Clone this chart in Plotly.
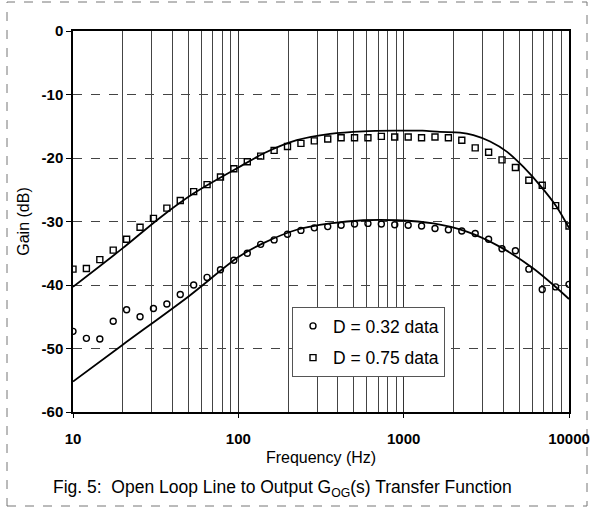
import plotly.graph_objects as go

# Measurement frequencies (Hz)
freq = [10, 12.05, 14.53, 17.51, 21.1, 25.44, 30.66, 36.95, 44.54, 53.68,
        64.7, 77.98, 93.99, 113.3, 136.5, 164.6, 198.3, 239.1, 288.1, 347.3,
        418.6, 504.5, 608, 733, 883, 1065, 1283, 1547, 1864, 2247,
        2708, 3264, 3934, 4741, 5715, 6888, 8302, 10000]

# D = 0.32 measured gain (dB)
gain_d032 = [-47.3, -48.4, -48.5, -45.7, -43.9, -45.0, -43.7, -43.0, -41.5, -40.0,
             -38.8, -37.6, -36.1, -35.0, -33.6, -32.9, -32.0, -31.4, -31.0, -30.8,
             -30.6, -30.4, -30.3, -30.4, -30.5, -30.6, -30.7, -31.1, -31.3, -31.5,
             -31.9, -32.8, -34.3, -34.6, -37.5, -40.7, -40.3, -39.9]

# D = 0.75 measured gain (dB)
gain_d075 = [-37.5, -37.4, -36.0, -34.5, -32.8, -30.9, -29.5, -27.9, -26.7, -25.3,
             -24.2, -23.0, -21.7, -20.6, -19.7, -18.8, -18.2, -17.7, -17.3, -17.0,
             -16.8, -16.8, -16.8, -16.6, -16.7, -16.7, -16.8, -16.7, -16.8, -17.2,
             -18.4, -19.1, -20.3, -21.5, -23.5, -24.3, -27.5, -30.7]

# Model (fit) curves
fit_freq_032 = [10, 20, 50, 100, 141.7, 225.6, 359, 570, 908, 1513, 2409, 3830, 6090, 8050, 10000]
fit_gain_032 = [-55.2, -49.4, -41.8, -35.6, -33.4, -31.3, -30.3, -29.8, -29.8, -30.3, -31.6, -34.0, -37.4, -40.0, -42.2]

fit_freq_075 = [10, 20, 33.6, 53.5, 100, 141.7, 225.6, 359, 570, 908, 1300, 1660, 2193, 2641,
                3334, 4206, 5300, 6680, 8430, 10000]
fit_gain_075 = [-40.3, -34.2, -29.4, -25.6, -21.5, -19.3, -17.2, -16.2, -15.8, -15.7, -15.7, -15.9, -16.0, -16.4,
                -17.4, -19.0, -21.4, -24.3, -27.7, -31.0]

x_ticks = [10, 100, 1000, 10000]
x_tick_text = ["10", "100", "1000", "10000"]
y_ticks = [0, -10, -20, -30, -40, -50, -60]
y_tick_text = ["0", "-10", "-20", "-30", "-40", "-50", "-60"]

FONT = "Liberation Sans, Arial, sans-serif"

fig = go.Figure()

fig.add_trace(go.Scatter(x=fit_freq_032, y=fit_gain_032, mode="lines",
                         line=dict(color="black", width=1.8, shape="spline", smoothing=0.8),
                         showlegend=False, hoverinfo="skip"))
fig.add_trace(go.Scatter(x=fit_freq_075, y=fit_gain_075, mode="lines",
                         line=dict(color="black", width=1.8, shape="spline", smoothing=0.8),
                         showlegend=False, hoverinfo="skip"))

fig.add_trace(go.Scatter(x=freq, y=gain_d032, mode="markers", name="D = 0.32 data",
                         legendgroup="a",
                         marker=dict(symbol="circle-open", size=6, color="black",
                                     line=dict(width=1.4, color="black"))))
fig.add_trace(go.Scatter(x=freq, y=gain_d075, mode="markers", name="D = 0.75 data",
                         legendgroup="b",
                         marker=dict(symbol="square-open", size=6, color="black",
                                     line=dict(width=1.4, color="black"))))

fig.update_layout(
    width=590, height=512,
    margin=dict(l=73, r=21, t=31, b=100, autoexpand=False),
    paper_bgcolor="white", plot_bgcolor="white",
    font=dict(family=FONT, color="black", size=15),
    legend=dict(x=(292 - 73) / 496, y=(412 - 307) / 381, xanchor="left", yanchor="top",
                bgcolor="white", bordercolor="#555", borderwidth=1,
                font=dict(size=17.5, family=FONT), tracegroupgap=6,
                itemwidth=30),
    annotations=[
        dict(text="Fig. 5:  Open Loop Line to Output G<sub>OG</sub>(s) Transfer Function",
             xref="paper", yref="paper", x=(51 - 73) / 496, y=(412 - 488) / 381,
             xanchor="left", yanchor="middle", showarrow=False,
             font=dict(size=17.5, family=FONT, color="black")),
    ],
    shapes=[
        dict(type="rect", xref="paper", yref="paper",
             x0=(7 - 73) / 496, x1=(587 - 73) / 496,
             y0=(412 - 506) / 381, y1=(412 - 2) / 381,
             line=dict(color="#777", width=1, dash="dash"), layer="below"),
    ],
)

fig.update_xaxes(
    type="log", range=[1, 4],
    tickvals=x_ticks, ticktext=x_tick_text,
    showline=True, linecolor="black", linewidth=1.5, mirror=True,
    ticks="outside", ticklen=4, tickcolor="black",
    showgrid=True, gridcolor="#333", gridwidth=1,
    minor=dict(showgrid=True, gridcolor="#444", gridwidth=1, dtick="D1", ticks=""),
    tickfont=dict(size=15, family=FONT, weight="bold"),
    ticklabelstandoff=8,
    title=dict(text="Frequency (Hz)", font=dict(size=16, family=FONT), standoff=6),
    zeroline=False,
)
fig.update_yaxes(
    range=[-60, 0], tickvals=y_ticks, ticktext=y_tick_text,
    showline=True, linecolor="black", linewidth=1.5, mirror=True,
    ticks="outside", ticklen=5, tickcolor="black",
    showgrid=True, gridcolor="#444", gridwidth=1, griddash="dash",
    tickfont=dict(size=15, family=FONT, weight="bold"),
    title=dict(text="Gain (dB)", font=dict(size=16, family=FONT), standoff=8),
    zeroline=False,
)

post = ("document.body.style.margin='0';document.body.style.padding='0';"
        "document.body.style.overflow='hidden';"
        "var gd=document.getElementById('{plot_id}');"
        "Plotly.relayout(gd,{width:590,height:512});")

fig.write_html("out.html", config={"responsive": False, "displayModeBar": False},
               post_script=post)
